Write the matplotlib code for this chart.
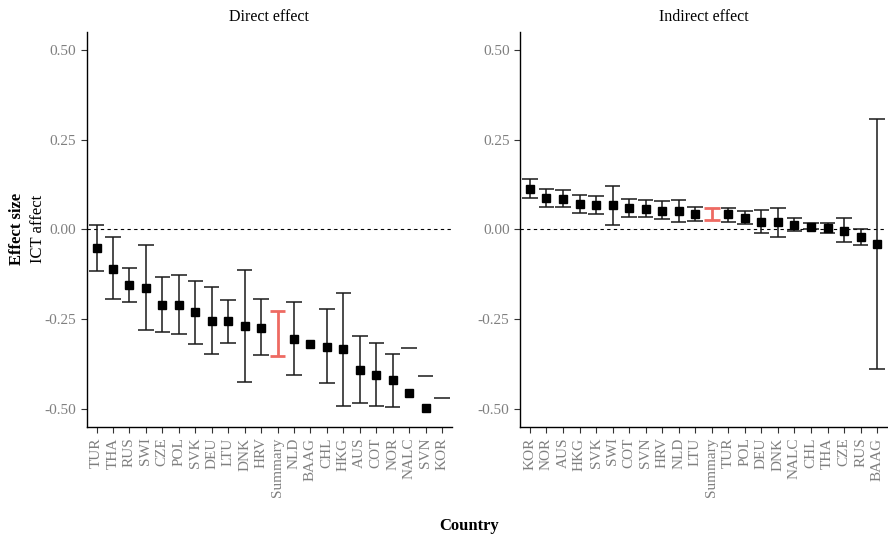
import numpy as np
import matplotlib
matplotlib.use('Agg')
import matplotlib.pyplot as plt

plt.rcParams['font.family'] = ['Liberation Serif', 'DejaVu Serif']

# Direct effect (nan = dropped, outside the -0.5..0.5 limits)
direct_countries = ['TUR', 'THA', 'RUS', 'SWI', 'CZE', 'POL', 'SVK', 'DEU', 'LTU', 'DNK', 'HRV',
                    'Summary', 'NLD', 'BAAG', 'CHL', 'HKG', 'AUS', 'COT', 'NOR', 'NALC', 'SVN', 'KOR']
direct_est = [-0.051, -0.109, -0.154, -0.162, -0.209, -0.209, -0.231, -0.254, -0.256, -0.268, -0.273,
              np.nan, -0.304, -0.319, -0.326, -0.334, -0.390, -0.404, -0.420, -0.454, -0.498, np.nan]
direct_lo = [-0.116, -0.194, -0.202, -0.281, -0.285, -0.290, -0.319, -0.346, -0.316, -0.424, -0.350,
             -0.352, -0.404, np.nan, -0.427, -0.491, -0.482, -0.492, -0.494, np.nan, np.nan, np.nan]
direct_hi = [0.013, -0.022, -0.106, -0.044, -0.131, -0.128, -0.144, -0.161, -0.195, -0.114, -0.194,
             -0.226, -0.202, np.nan, -0.222, -0.177, -0.297, -0.316, -0.348, -0.330, -0.407, -0.470]

# Indirect effect
indirect_countries = ['KOR', 'NOR', 'AUS', 'HKG', 'SVK', 'SWI', 'COT', 'SVN', 'HRV', 'NLD', 'LTU',
                      'Summary', 'TUR', 'POL', 'DEU', 'DNK', 'NALC', 'CHL', 'THA', 'CZE', 'RUS', 'BAAG']
indirect_est = [0.113, 0.088, 0.085, 0.071, 0.069, 0.069, 0.060, 0.057, 0.052, 0.052, 0.044,
                np.nan, 0.042, 0.032, 0.022, 0.022, 0.013, 0.008, 0.005, -0.003, -0.020, -0.040]
indirect_lo = [0.089, 0.062, 0.064, 0.047, 0.043, 0.012, 0.034, 0.034, 0.029, 0.021, 0.025,
               0.027, 0.020, 0.015, -0.011, -0.020, -0.005, 0.001, -0.010, -0.034, -0.042, -0.388]
indirect_hi = [0.140, 0.114, 0.109, 0.096, 0.094, 0.122, 0.084, 0.083, 0.078, 0.082, 0.062,
               0.059, 0.060, 0.052, 0.054, 0.061, 0.031, 0.017, 0.017, 0.031, 0.001, 0.308]

grey = '#7f7f7f'
red = '#EE6A62'


def panel(ax, countries, est, lo, hi, title):
    x = np.arange(len(countries))
    est = np.array(est); lo = np.array(lo); hi = np.array(hi)
    colors = np.array([red if c == 'Summary' else '#1a1a1a' for c in countries])
    lws = np.array([2.0 if c == 'Summary' else 1.1 for c in countries])
    both = ~np.isnan(lo) & ~np.isnan(hi)
    ax.vlines(x[both], lo[both], hi[both], colors=colors[both], linewidth=lws[both], zorder=2)
    w = 0.47
    for arr in (lo, hi):
        ok = ~np.isnan(arr)
        ax.hlines(arr[ok], x[ok] - w, x[ok] + w, colors=colors[ok], linewidth=lws[ok], zorder=2)
    ok = ~np.isnan(est)
    ax.plot(x[ok], est[ok], 's', color='black', ms=6, zorder=3, linestyle='none')
    ax.axhline(0, color='black', linestyle=(0, (3, 3)), linewidth=0.8, zorder=1)

    ax.set_xlim(-0.6, len(countries) - 0.4)
    ax.set_ylim(-0.55, 0.55)
    ax.set_yticks([-0.5, -0.25, 0, 0.25, 0.5])
    ax.set_yticklabels(['-0.50', '-0.25', '0.00', '0.25', '0.50'])
    ax.set_xticks(x)
    ax.set_xticklabels(countries, rotation=90)
    ax.tick_params(axis='both', colors='#333333', labelcolor=grey, labelsize=11, length=4, width=0.8)
    for s in ['top', 'right']:
        ax.spines[s].set_visible(False)
    for s in ['left', 'bottom']:
        ax.spines[s].set_linewidth(1.0)
    ax.set_title(title, fontsize=11.5, pad=8)


fig = plt.figure(figsize=(8.88, 5.36), dpi=100)
ax1 = fig.add_axes([0.0976, 0.2034, 0.4114, 0.7369])
ax2 = fig.add_axes([0.5856, 0.2034, 0.4133, 0.7369])

panel(ax1, direct_countries, direct_est, direct_lo, direct_hi, 'Direct effect')
panel(ax2, indirect_countries, indirect_est, indirect_lo, indirect_hi, 'Indirect effect')

fig.text(17 / 888, 1 - 229 / 536, 'Effect size', rotation=90, fontweight='bold', fontsize=12,
         ha='center', va='center')
fig.text(38 / 888, 1 - 229 / 536, 'ICT affect', rotation=90, fontsize=12,
         ha='center', va='center')
fig.text(469 / 888, 1 - 526 / 536, 'Country', fontweight='bold', fontsize=12,
         ha='center', va='center')

fig.savefig('out.png', dpi=100)
